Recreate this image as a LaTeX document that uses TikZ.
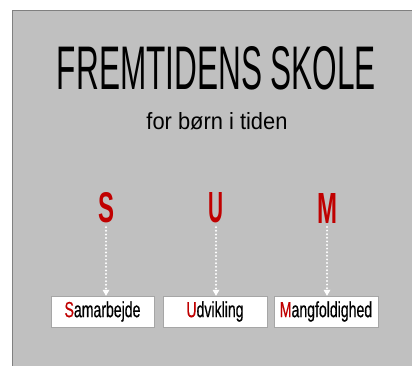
\documentclass[tikz,border=0pt]{standalone}
\usepackage{fontspec}
\setmainfont{Liberation Sans}
\newfontfamily\agency[FakeStretch=0.62]{Liberation Sans}
\newfontfamily\agencylabel[FakeStretch=0.64,FakeBold=0.4]{Liberation Sans}
\usetikzlibrary{arrows.meta}
\definecolor{bg}{HTML}{C0C0C0}
\definecolor{edgegray}{HTML}{808080}
\definecolor{sumred}{HTML}{C00000}
\tikzset{
  txt/.style={inner sep=0pt, outer sep=0pt},
  bigletter/.style={txt, text=sumred, outer sep=4pt},
  labelbox/.style={draw=edgegray!70, fill=white, minimum width=104pt, minimum height=31pt,
    inner sep=0pt, font=\agencylabel\fontsize{22}{22}\selectfont},
  dotarrow/.style={draw=white, line width=2.2pt, dash pattern=on 0pt off 3.6pt, line cap=round,
    -{Triangle[width=7pt,length=6pt,fill=white,line width=0pt]}},
}
\begin{document}
\begin{tikzpicture}[x=1pt, y=-1pt]
\useasboundingbox (0,0) rectangle (412,366);
\fill[white] (0,0) rectangle (412,366);
\fill[bg] (12,10) rectangle (412,366);
\draw[edgegray, line width=1.2pt] (12.6,366) -- (12.6,10.6) -- (412,10.6);

\node[txt] (title) at (216.5,68.5) {\resizebox{319pt}{43pt}{\agency FREMTIDENS SKOLE}};
\node[txt, anchor=base] (sub) at (217,130) {\resizebox{141pt}{17pt}{\agency for børn i tiden}};

\node[bigletter] (S) at (106,208) {\resizebox{16pt}{30pt}{\bfseries S}};
\node[bigletter] (U) at (216,208) {\resizebox{15pt}{30pt}{\bfseries U}};
\node[bigletter] (M) at (327,208) {\resizebox{20pt}{30pt}{\bfseries M}};

\node[labelbox, minimum width=103pt] (b1) at (102.5,311.5) {{\color{sumred}S}amarbejde};
\node[labelbox] (b2) at (215,311.5) {{\color{sumred}U}dvikling};
\node[labelbox] (b3) at (326,311.5) {{\color{sumred}M}angfoldighed};

\draw[dotarrow] (S.south) -- (S.south |- b1.north);
\draw[dotarrow] (U.south) -- (U.south |- b2.north);
\draw[dotarrow] (M.south) -- (M.south |- b3.north);
\end{tikzpicture}
\end{document}
